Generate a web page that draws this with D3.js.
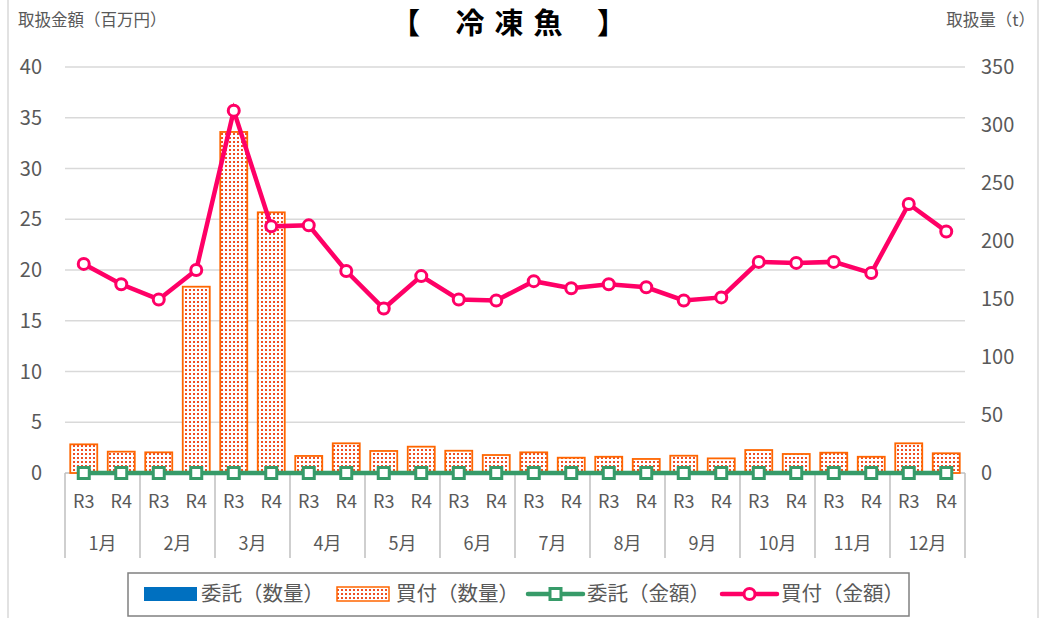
<!DOCTYPE html>
<html>
<head>
<meta charset="utf-8">
<script src="https://cdn.jsdelivr.net/npm/d3@7"></script>
<style>
  body { margin: 0; background: #fff; }
  svg { display: block; font-family: "Noto Sans CJK JP", "Noto Sans", sans-serif; }
</style>
</head>
<body>
<svg id="chart"></svg>
<script>
const months = ["1月", "2月", "3月", "4月", "5月", "6月", "7月", "8月", "9月", "10月", "11月", "12月"];
const years = ["R3", "R4"];
const leftTicks = [0, 5, 10, 15, 20, 25, 30, 35, 40];
const rightTicks = [0, 50, 100, 150, 200, 250, 300, 350];

// quantity (t) - right axis
const consignQty = [0, 0, 0, 0, 0, 0, 0, 0, 0, 0, 0, 0, 0, 0, 0, 0, 0, 0, 0, 0, 0, 0, 0, 0];
const buyQty = [24.7, 18.4, 17.8, 160.6, 294, 224.7, 14.7, 25.6, 19, 22.7, 19.2, 15.5,
                17.8, 13.2, 14, 12.1, 14.9, 12.6, 19.8, 16.4, 17.5, 14, 25.6, 17];
// amount (million yen) - left axis
const consignAmt = [0, 0, 0, 0, 0, 0, 0, 0, 0, 0, 0, 0, 0, 0, 0, 0, 0, 0, 0, 0, 0, 0, 0, 0];
const buyAmt = [20.6, 18.6, 17.1, 20.0, 35.7, 24.3, 24.4, 19.9, 16.2, 19.4, 17.1, 17.0,
                18.9, 18.2, 18.6, 18.3, 17.0, 17.3, 20.8, 20.7, 20.8, 19.7, 26.5, 23.8];

const W = 1049, H = 618;
const plot = { left: 65, right: 965, top: 67, bottom: 473 };

const svg = d3.select("#chart").attr("width", W).attr("height", H);

const slots = months.flatMap(m => years.map(y => m + y));
const x = d3.scaleBand().domain(slots).range([plot.left, plot.right]).paddingInner(0.28).paddingOuter(0.14);
const xc = i => x(slots[i]) + x.bandwidth() / 2;
const yL = d3.scaleLinear().domain([0, 40]).range([plot.bottom, plot.top]);
const yR = d3.scaleLinear().domain([0, 350]).range([plot.bottom, plot.top]);

const textCol = "#595959";

// outer chart frame (only sides visible)
svg.append("line").attr("x1", 8).attr("x2", 8).attr("y1", 0).attr("y2", H)
  .attr("stroke", "#d9d9d9").attr("stroke-width", 1.5);
svg.append("line").attr("x1", 1038).attr("x2", 1038).attr("y1", 0).attr("y2", H)
  .attr("stroke", "#d9d9d9").attr("stroke-width", 1.5);

// pattern for purchased quantity bars
const defs = svg.append("defs");
const pat = defs.append("pattern").attr("id", "dots")
  .attr("patternUnits", "userSpaceOnUse").attr("width", 4).attr("height", 4);
pat.append("rect").attr("width", 4).attr("height", 4).attr("fill", "#fff");
pat.append("rect").attr("x", 1).attr("y", 1).attr("width", 2).attr("height", 2).attr("fill", "#f04e24");

// gridlines
svg.append("g").selectAll("line").data(leftTicks.filter(d => d > 0)).join("line")
  .attr("x1", plot.left).attr("x2", plot.right)
  .attr("y1", d => yL(d)).attr("y2", d => yL(d))
  .attr("stroke", "#d9d9d9").attr("stroke-width", 1.5);

// left axis labels
svg.append("g").selectAll("text").data(leftTicks).join("text")
  .attr("x", 42).attr("y", d => yL(d)).attr("dy", "0.35em")
  .attr("text-anchor", "end").attr("font-size", 20).attr("fill", textCol)
  .text(d => d);

// right axis labels
svg.append("g").selectAll("text").data(rightTicks).join("text")
  .attr("x", 981).attr("y", d => yR(d)).attr("dy", "0.35em")
  .attr("text-anchor", "start").attr("font-size", 20).attr("fill", textCol)
  .text(d => d);

// axis titles
svg.append("text").attr("x", 18).attr("y", 26).attr("font-size", 16.5).attr("fill", textCol)
  .text("取扱金額（百万円）");
svg.append("text").attr("x", 1035).attr("y", 26).attr("font-size", 16.5).attr("fill", textCol)
  .attr("text-anchor", "end").text("取扱量（t）");

// chart title
const title = svg.append("g").attr("font-size", 29).attr("font-weight", "bold").attr("fill", "#000");
title.append("text").attr("x", 391).attr("y", 34).text("【");
title.selectAll("text.ch").data(["冷", "凍", "魚"]).join("text").attr("class", "ch")
  .attr("x", (d, i) => 470 + i * 39).attr("y", 34).attr("text-anchor", "middle").text(d => d);
title.append("text").attr("x", 597).attr("y", 34).text("】");

// category axis
svg.append("line").attr("x1", plot.left).attr("x2", plot.right)
  .attr("y1", plot.bottom).attr("y2", plot.bottom)
  .attr("stroke", "#bfbfbf").attr("stroke-width", 1.5);
svg.append("g").selectAll("line").data(d3.range(months.length + 1)).join("line")
  .attr("x1", i => x(slots[0]) - x.step() * x.paddingOuter() + i * 2 * x.step())
  .attr("x2", i => x(slots[0]) - x.step() * x.paddingOuter() + i * 2 * x.step())
  .attr("y1", plot.bottom).attr("y2", 558)
  .attr("stroke", "#bfbfbf").attr("stroke-width", 1.5);
svg.append("g").selectAll("text").data(slots).join("text")
  .attr("x", (d, i) => xc(i)).attr("y", 502).attr("dy", "0.35em")
  .attr("text-anchor", "middle").attr("font-size", 18).attr("fill", textCol)
  .text((d, i) => years[i % 2]);
svg.append("g").selectAll("text").data(months).join("text")
  .attr("x", (d, i) => (xc(i * 2) + xc(i * 2 + 1)) / 2).attr("y", 544).attr("dy", "0.35em")
  .attr("text-anchor", "middle").attr("font-size", 18).attr("fill", textCol)
  .text(d => d);

// bars
svg.append("g").selectAll("rect").data(consignQty).join("rect")
  .attr("x", (d, i) => x(slots[i])).attr("width", x.bandwidth())
  .attr("y", d => yR(d)).attr("height", d => yR(0) - yR(d))
  .attr("fill", "#0070c0");
svg.append("g").selectAll("rect").data(buyQty).join("rect")
  .attr("x", (d, i) => x(slots[i])).attr("width", x.bandwidth())
  .attr("y", d => yR(d)).attr("height", d => yR(0) - yR(d))
  .attr("fill", "url(#dots)").attr("stroke", "#ff6600").attr("stroke-width", 1.8);

// lines
const green = "#379b69", pink = "#ff0066";
const lineL = d3.line().x((d, i) => xc(i)).y(d => yL(d));

svg.append("path").datum(consignAmt).attr("d", lineL)
  .attr("fill", "none").attr("stroke", green).attr("stroke-width", 4.5);
svg.append("g").selectAll("rect").data(consignAmt).join("rect")
  .attr("x", (d, i) => xc(i) - 5.5).attr("y", d => yL(d) - 5.5)
  .attr("width", 11).attr("height", 11)
  .attr("fill", "#fff").attr("stroke", green).attr("stroke-width", 3);

svg.append("path").datum(buyAmt).attr("d", lineL)
  .attr("fill", "none").attr("stroke", pink).attr("stroke-width", 4.5);
svg.append("g").selectAll("circle").data(buyAmt).join("circle")
  .attr("cx", (d, i) => xc(i)).attr("cy", d => yL(d)).attr("r", 5.5)
  .attr("fill", "#fff").attr("stroke", pink).attr("stroke-width", 3);

// legend
const lg = svg.append("g");
lg.append("rect").attr("x", 128).attr("y", 573).attr("width", 781).attr("height", 43)
  .attr("fill", "#fff").attr("stroke", "#808080").attr("stroke-width", 1.5);
const legendItems = [
  { label: "委託（数量）", kind: "bar", fill: "#0070c0", x: 144 },
  { label: "買付（数量）", kind: "barPat", x: 337 },
  { label: "委託（金額）", kind: "lineSq", color: green, x: 528 },
  { label: "買付（金額）", kind: "lineCirc", color: pink, x: 722 }
];
const ly = 594;
legendItems.forEach(it => {
  if (it.kind === "bar") {
    lg.append("rect").attr("x", it.x).attr("y", ly - 7).attr("width", 53).attr("height", 14).attr("fill", it.fill);
  } else if (it.kind === "barPat") {
    lg.append("rect").attr("x", it.x).attr("y", ly - 7).attr("width", 52).attr("height", 14)
      .attr("fill", "url(#dots)").attr("stroke", "#ff6600").attr("stroke-width", 1.5);
  } else {
    lg.append("line").attr("x1", it.x).attr("x2", it.x + 55).attr("y1", ly).attr("y2", ly)
      .attr("stroke", it.color).attr("stroke-width", 4.5).attr("stroke-linecap", "round");
    if (it.kind === "lineSq") {
      lg.append("rect").attr("x", it.x + 27.5 - 5.5).attr("y", ly - 5.5).attr("width", 11).attr("height", 11)
        .attr("fill", "#fff").attr("stroke", it.color).attr("stroke-width", 3);
    } else {
      lg.append("circle").attr("cx", it.x + 27.5).attr("cy", ly).attr("r", 5.5)
        .attr("fill", "#fff").attr("stroke", it.color).attr("stroke-width", 3);
    }
  }
  lg.append("text").attr("x", it.x + (it.kind === "bar" ? 57 : 59)).attr("y", ly).attr("dy", "0.35em")
    .attr("font-size", 20.5).attr("fill", textCol).text(it.label);
});
</script>
</body>
</html>
